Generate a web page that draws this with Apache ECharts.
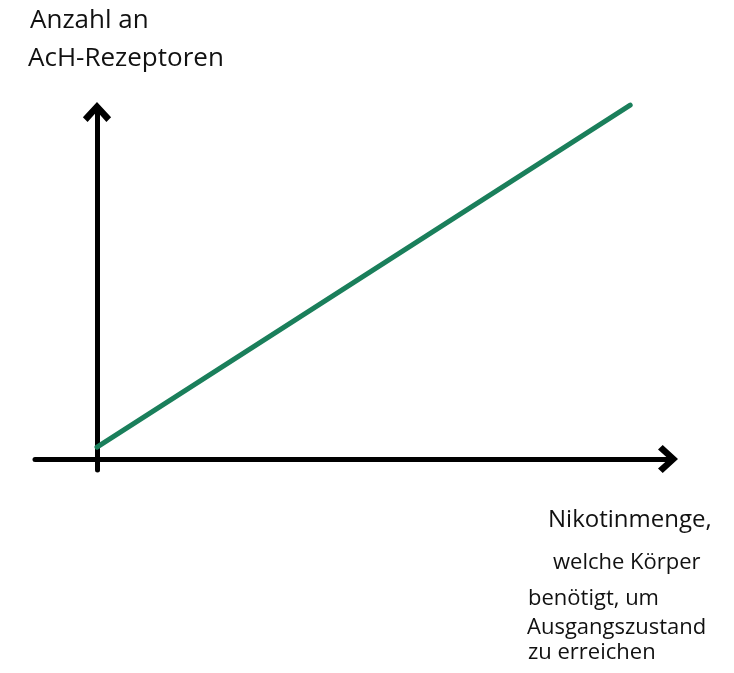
<!DOCTYPE html>
<html>
<head>
<meta charset="utf-8">
<script src="https://cdn.jsdelivr.net/npm/echarts@6/dist/echarts.min.js"></script>
<style>
  html, body { margin: 0; padding: 0; background: #fff; }
  #main { width: 734px; height: 673px; }
</style>
</head>
<body>
<div id="main"></div>
<script>
// sketch data: amount of nicotine needed vs. number of AcH receptors
const lineX = [0, 8.6];
const lineY = [0.34, 10.2];
const yTitle = ["Anzahl an", "AcH-Rezeptoren"];
const xTitle = ["Nikotinmenge,", "welche Körper", "benötigt, um", "Ausgangszustand", "zu erreichen"];

const chart = echarts.init(document.getElementById("main"));

// open chevron arrow head, tip pointing up (gets rotated along the axis)
const chevron = "path://M0,13 L12,0 L24,13 L20,17 L12,8 L4,17 Z";

const axisStyle = {
  show: true,
  onZero: true,
  symbol: ["none", chevron],
  symbolSize: [30, 20],
  symbolOffset: [0, 0],
  lineStyle: { color: "#000", width: 5, cap: "round" },
};

const font = "'Open Sans', sans-serif";

const option = {
  animation: false,
  backgroundColor: "#fff",
  grid: { left: 35, right: 66, top: 112, bottom: 203 },
  xAxis: {
    type: "value",
    min: -1,
    max: 9.21,
    axisLine: axisStyle,
    axisTick: { show: false },
    axisLabel: { show: false },
    splitLine: { show: false },
  },
  yAxis: {
    type: "value",
    min: -0.317,
    max: 10,
    axisLine: axisStyle,
    axisTick: { show: false },
    axisLabel: { show: false },
    splitLine: { show: false },
  },
  graphic: [
    { type: "text", left: 30, top: 8, style: { text: yTitle[0], font: "26px " + font, fill: "#111" } },
    { type: "text", left: 28, top: 46, style: { text: yTitle[1], font: "26px " + font, fill: "#111" } },
    { type: "text", left: 548, top: 508, style: { text: xTitle[0], font: "24px " + font, fill: "#111" } },
    { type: "text", left: 553, top: 552, style: { text: xTitle[1], font: "22px " + font, fill: "#111" } },
    { type: "text", left: 528, top: 588, style: { text: xTitle[2], font: "22px " + font, fill: "#111" } },
    { type: "text", left: 527, top: 617, style: { text: xTitle[3], font: "22px " + font, fill: "#111" } },
    { type: "text", left: 528, top: 642, style: { text: xTitle[4], font: "22px " + font, fill: "#111" } },
  ],
  series: [
    {
      type: "line",
      data: lineX.map((x, i) => [x, lineY[i]]),
      symbol: "none",
      clip: false,
      lineStyle: { color: "#1a7f5b", width: 5, cap: "round" },
    },
  ],
};

chart.setOption(option);
</script>
</body>
</html>
